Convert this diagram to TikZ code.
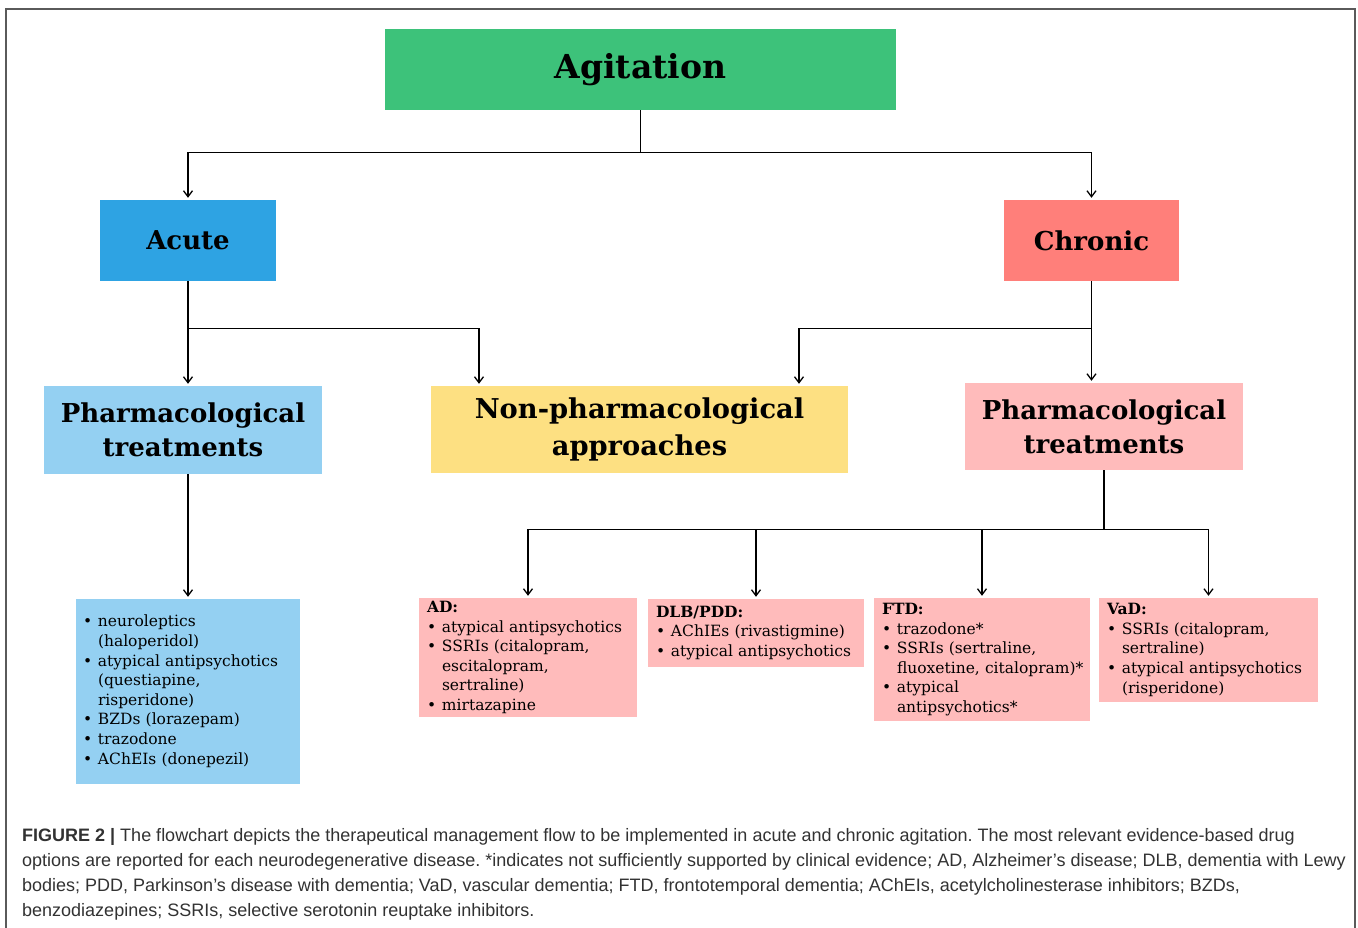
\documentclass[tikz,border=0pt]{standalone}
\usepackage{fontspec}
\setmainfont{DejaVu Serif}
\newfontfamily\capfont{Liberation Sans}
\usetikzlibrary{arrows.meta}
\frenchspacing

\definecolor{agitgreen}{RGB}{61,194,122}
\definecolor{acuteblue}{RGB}{46,163,227}
\definecolor{chronred}{RGB}{255,127,122}
\definecolor{lightblue}{RGB}{148,208,242}
\definecolor{lightyellow}{RGB}{253,224,130}
\definecolor{lightpink}{RGB}{255,187,187}
\definecolor{framegray}{RGB}{90,90,90}
\definecolor{captext}{RGB}{50,50,50}

% bullet lines for the drug lists
\newcommand{\bul}{\makebox[15pt][l]{\textbullet}}
\newcommand{\ind}{\hspace*{15pt}}
\newcommand{\druglist}[1]{\begin{tabular}{@{}l@{}}#1\end{tabular}}

\tikzset{
  headbox/.style={rectangle, inner sep=0pt, align=center},
  listbox/.style={rectangle, fill=lightpink, inner xsep=8pt, inner ysep=0pt, align=left,
    font=\fontsize{15.5}{19.6}\selectfont},
  arr/.style={-{Straight Barb[length=6pt,width=9pt]}, line width=1.3pt, shorten >=2pt},
  link/.style={line width=1.3pt},
}

\begin{document}
\begin{tikzpicture}[x=1pt, y=-1pt]
  \useasboundingbox (0,0) rectangle (1358,928);
  \draw[framegray, line width=1.2pt] (6,928) -- (6,9) -- (1355,9) -- (1355,928);

  % Top levels
  \node[headbox, fill=agitgreen, minimum width=511pt, minimum height=81pt,
    font=\fontsize{33}{40}\selectfont\bfseries] (agit) at (640.5,69.5) {Agitation};
  \node[headbox, fill=acuteblue, minimum width=176pt, minimum height=81pt,
    font=\fontsize{26}{32}\selectfont\bfseries] (acute) at (188,240.5) {Acute};
  \node[headbox, fill=chronred, minimum width=175pt, minimum height=81pt,
    font=\fontsize{26}{32}\selectfont\bfseries] (chronic) at (1091.5,240.5) {Chronic};

  % Treatments
  \node[headbox, fill=lightblue, minimum width=278pt, minimum height=88pt,
    font=\fontsize{26}{34}\selectfont\bfseries] (pharmL) at (183,430) {Pharmacological\\treatments};
  \node[headbox, fill=lightyellow, minimum width=417pt, minimum height=87pt,
    font=\fontsize{27.3}{37}\selectfont\bfseries] (nonph) at (639.5,429.5) {Non-pharmacological\\approaches};
  \node[headbox, fill=lightpink, minimum width=278pt, minimum height=87pt,
    font=\fontsize{26}{34}\selectfont\bfseries] (pharmR) at (1104,426.5) {Pharmacological\\treatments};

  % Drug lists
  \node[listbox, fill=lightblue, inner xsep=7pt, text width=210pt, minimum height=185pt] (listL) at (188,691.5) {\druglist{%
    \bul neuroleptics\\
    \ind (haloperidol)\\
    \bul atypical antipsychotics\\
    \ind (questiapine,\\
    \ind risperidone)\\
    \bul BZDs (lorazepam)\\
    \bul trazodone\\
    \bul AChEIs (donepezil)}};
  \node[listbox, text width=202pt, minimum height=119pt] (ad) at (528,657.5) {\druglist{%
    \textbf{AD:}\\
    \bul atypical antipsychotics\\
    \bul SSRIs (citalopram,\\
    \ind escitalopram,\\
    \ind sertraline)\\
    \bul mirtazapine}};
  \node[listbox, text width=200pt, minimum height=68pt] (dlb) at (756,633) {\druglist{%
    \textbf{DLB/PDD:}\\
    \bul AChIEs (rivastigmine)\\
    \bul atypical antipsychotics}};
  \node[listbox, text width=200pt, minimum height=123pt] (ftd) at (982,659.5) {\druglist{%
    \textbf{FTD:}\\
    \bul trazodone*\\
    \bul SSRIs (sertraline,\\
    \ind fluoxetine, citalopram)*\\
    \bul atypical\\
    \ind antipsychotics*}};
  \node[listbox, text width=203pt, minimum height=104pt] (vad) at (1208.5,650) {\druglist{%
    \textbf{VaD:}\\
    \bul SSRIs (citalopram,\\
    \ind sertraline)\\
    \bul atypical antipsychotics\\
    \ind (risperidone)}};

  % Connectors
  \draw[link] (agit.south) -- ++(0,42) coordinate (split);
  \draw[arr] (split) -| (acute.north);
  \draw[arr] (split) -| (chronic.north);
  \draw[arr] (acute.south) -- (acute.south |- pharmL.north);
  \draw[arr] (acute.south) -- ++(0,47) -| ([xshift=-160.5pt]nonph.north);
  \draw[arr] (chronic.south) -- (chronic.south |- pharmR.north);
  \draw[arr] (chronic.south) -- ++(0,47) -| ([xshift=159.5pt]nonph.north);
  \draw[arr] (listL.north |- pharmL.south) -- (listL.north);
  \draw[link] (pharmR.south) -- ++(0,59) coordinate (bus);
  \foreach \n in {ad,dlb,ftd,vad}
    \draw[arr] (bus) -| (\n.north);

  % Caption
  \node[anchor=north west, inner sep=0pt, align=left, text=captext,
    font=\capfont\fontsize{18}{25}\selectfont] (cap) at (22,828) {%
    \textbf{FIGURE 2 |} The flowchart depicts the therapeutical management flow to be implemented in acute and chronic agitation. The most relevant evidence-based drug\\
    options are reported for each neurodegenerative disease. *indicates not sufficiently supported by clinical evidence; AD, Alzheimer’s disease; DLB, dementia with Lewy\\
    bodies; PDD, Parkinson’s disease with dementia; VaD, vascular dementia; FTD, frontotemporal dementia; AChEIs, acetylcholinesterase inhibitors; BZDs,\\
    benzodiazepines; SSRIs, selective serotonin reuptake inhibitors.};
\end{tikzpicture}
\end{document}
